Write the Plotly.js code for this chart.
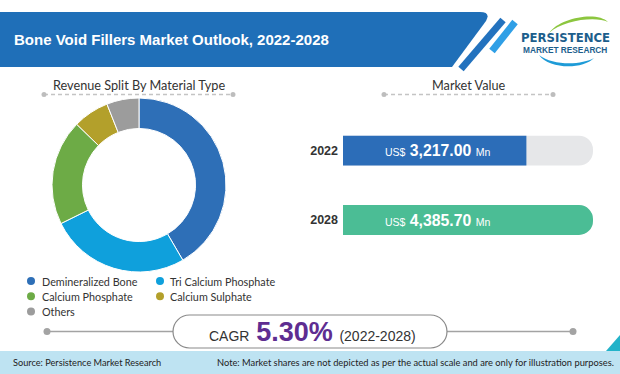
<!DOCTYPE html>
<html><head><meta charset="utf-8">
<script src="https://cdn.plot.ly/plotly-3.0.1.min.js"></script>
<style>html,body{margin:0;padding:0;background:#fff}#chart{width:620px;height:374px}</style>
</head><body><div id="chart"></div>
<script>
// ---- data ----
const titleText = 'Bone Void Fillers Market Outlook, 2022-2028';
const pieTitle = 'Revenue Split By Material Type';
const barTitle = 'Market Value';
const materialTypes = ['Demineralized Bone', 'Tri Calcium Phosphate', 'Calcium Phosphate', 'Calcium Sulphate', 'Others'];
const materialShares = [41.6, 26.1, 19.6, 6.7, 6.0];
const materialColors = ['#2E6FB7', '#0FA0DC', '#6DAB46', '#B3A02B', '#9C9C9C'];
const years = ['2022', '2028'];
const marketValues = [3217.00, 4385.70];
const barColors = ['#2C6DB8', '#4BBD95'];
const cagrLabel = 'CAGR';
const cagrValue = '5.30%';
const cagrPeriod = '(2022-2028)';
const sourceText = 'Source: Persistence Market Research';
const noteText = 'Note: Market shares are not depicted as per the actual scale and are only for illustration purposes.';

// ---- helpers (pixel -> paper) ----
const W = 620, H = 374;
const px = x => x / W;
const py = y => 1 - y / H;
const P = (x, y) => px(x) + ',' + py(y);
const BODY = 'Lato, "Open Sans", sans-serif';
const ARIAL = '"Liberation Sans", Arial, sans-serif';
const NARROW = '"DejaVu Sans Condensed", sans-serif';

const maxVal = Math.max(...marketValues);
const fmt = v => v.toLocaleString('en-US', {minimumFractionDigits: 2, maximumFractionDigits: 2});

const traces = [
  {
    type: 'pie', labels: materialTypes, values: materialShares,
    marker: {colors: materialColors, line: {color: '#ffffff', width: 1}},
    hole: 0.65, sort: false, direction: 'clockwise', rotation: 0,
    textinfo: 'none', showlegend: false,
    domain: {x: [px(52), px(226)], y: [py(272), py(98)]}
  },
  {
    type: 'bar', orientation: 'h', y: years, x: years.map(() => maxVal),
    marker: {color: '#E6E7E9', cornerradius: 15}, width: 0.43,
    hoverinfo: 'skip', showlegend: false
  },
  {
    type: 'bar', orientation: 'h', y: years, x: marketValues,
    marker: {color: barColors, cornerradius: 15}, width: 0.43,
    showlegend: false
  }
];

const shapes = [];
const annotations = [];

// banner
shapes.push({type: 'path', xref: 'paper', yref: 'paper', layer: 'below',
  path: `M ${P(0,12)} L ${P(480,12)} Q ${P(491,12)} ${P(486,21)} L ${P(452,67)} L ${P(0,67)} Z`,
  fillcolor: '#1F6FB8', line: {width: 0}});
// stripes
shapes.push({type: 'line', xref: 'paper', yref: 'paper', x0: px(503), y0: py(20), x1: px(461), y1: py(69),
  line: {color: '#2372BE', width: 7}});
shapes.push({type: 'line', xref: 'paper', yref: 'paper', x0: px(515), y0: py(22), x1: px(492), y1: py(51),
  line: {color: '#2F9FE6', width: 7}});
// logo swooshes
shapes.push({type: 'path', xref: 'paper', yref: 'paper',
  path: `M ${P(549,33)} C ${P(560,17)} ${P(598,11)} ${P(608,22)} C ${P(596,16)} ${P(563,20)} ${P(549,33)} Z`,
  fillcolor: '#8CC63F', line: {width: 0}});
shapes.push({type: 'path', xref: 'paper', yref: 'paper',
  path: `M ${P(539,55)} C ${P(549,69)} ${P(582,70)} ${P(594,58)} C ${P(582,65)} ${P(553,66)} ${P(539,55)} Z`,
  fillcolor: '#1E9BD7', line: {width: 0}});

annotations.push({xref: 'paper', yref: 'paper', x: px(12), y: py(40), xanchor: 'left', yanchor: 'middle',
  text: '<b>' + titleText + '</b>', showarrow: false, font: {family: ARIAL, size: 15, color: '#ffffff'}});
annotations.push({xref: 'paper', yref: 'paper', x: px(565), y: py(38), xanchor: 'center', yanchor: 'middle',
  text: '<b>PERSISTENCE</b>', showarrow: false, font: {family: NARROW, size: 13, color: '#1C5E8C'}});
annotations.push({xref: 'paper', yref: 'paper', x: px(565), y: py(50.5), xanchor: 'center', yanchor: 'middle',
  text: '<b>MARKET RESEARCH</b>', showarrow: false, font: {family: ARIAL, size: 8.3, color: '#1C5E8C'}});

// section headers with dotted rules
function header(text, cx, x0, x1) {
  annotations.push({xref: 'paper', yref: 'paper', x: px(cx), y: py(84.5), xanchor: 'center', yanchor: 'middle',
    text: text, showarrow: false, font: {family: BODY, size: 12.7, color: '#333333'}});
  shapes.push({type: 'line', xref: 'paper', yref: 'paper', x0: px(x0), x1: px(x1), y0: py(94.5), y1: py(94.5),
    line: {color: '#C4C4C4', width: 1.5, dash: '4px,3px'}});
  [x0, x1].forEach(x => shapes.push({type: 'circle', xref: 'paper', yref: 'paper',
    x0: px(x - 2.5), x1: px(x + 2.5), y0: py(97), y1: py(92), fillcolor: '#BDBDBD', line: {width: 0}}));
}
header(pieTitle, 138.5, 44, 233);
header(barTitle, 468.5, 384, 553);

// legend built from categories
materialTypes.forEach((name, i) => {
  const col = i % 2, row = Math.floor(i / 2);
  const mx = [31, 160][col], tx = [40, 168][col], cy = 281 + 15.2 * row;
  shapes.push({type: 'circle', xref: 'paper', yref: 'paper', x0: px(mx - 4), x1: px(mx + 4),
    y0: py(cy + 4), y1: py(cy - 4), fillcolor: materialColors[i], line: {width: 0}});
  annotations.push({xref: 'paper', yref: 'paper', x: px(tx), y: py(cy), xanchor: 'left', yanchor: 'middle',
    text: name, showarrow: false, font: {family: BODY, size: 10.8, color: '#333333'}});
});

// bar value labels (placed 40px into the bar track; y = category index)
years.forEach((yr, i) => {
  annotations.push({xref: 'paper', yref: 'y', x: px(383), y: i, xanchor: 'left', yanchor: 'middle',
    text: '<span style="font-size:10.5px">US$</span> <b>' + fmt(marketValues[i]) + '</b> <span style="font-size:10.5px">Mn</span>',
    showarrow: false, font: {family: ARIAL, size: 15.8, color: '#ffffff'}});
});

// CAGR pill
const k = 0.5523, r = 16.5, cyP = 331.5, lx = 189.5, rx = 430.5;
shapes.push({type: 'line', xref: 'paper', yref: 'paper', x0: px(47), x1: px(173), y0: py(cyP), y1: py(cyP),
  line: {color: '#A3A3A3', width: 1.3}});
shapes.push({type: 'line', xref: 'paper', yref: 'paper', x0: px(447), x1: px(573), y0: py(cyP), y1: py(cyP),
  line: {color: '#A3A3A3', width: 1.3}});
[47, 573].forEach(x => shapes.push({type: 'circle', xref: 'paper', yref: 'paper',
  x0: px(x - 3.5), x1: px(x + 3.5), y0: py(cyP + 3.5), y1: py(cyP - 3.5), fillcolor: '#A3A3A3', line: {width: 0}}));
shapes.push({type: 'path', xref: 'paper', yref: 'paper',
  path: `M ${P(lx, cyP - r)} L ${P(rx, cyP - r)} C ${P(rx + k * r, cyP - r)} ${P(rx + r, cyP - k * r)} ${P(rx + r, cyP)} ` +
        `C ${P(rx + r, cyP + k * r)} ${P(rx + k * r, cyP + r)} ${P(rx, cyP + r)} L ${P(lx, cyP + r)} ` +
        `C ${P(lx - k * r, cyP + r)} ${P(lx - r, cyP + k * r)} ${P(lx - r, cyP)} C ${P(lx - r, cyP - k * r)} ${P(lx - k * r, cyP - r)} ${P(lx, cyP - r)} Z`,
  fillcolor: '#ffffff', line: {color: '#8A8A8A', width: 1.2}});
annotations.push({xref: 'paper', yref: 'paper', x: px(207), y: py(332), xanchor: 'left', yanchor: 'middle',
  text: cagrLabel + '\u2009 <span style="font-size:27px;color:#5E2D91"><b>' + cagrValue + '</b></span> \u2009' + cagrPeriod,
  showarrow: false, font: {family: ARIAL, size: 14, color: '#333333'}});

// footer
shapes.push({type: 'rect', xref: 'paper', yref: 'paper', x0: 0, x1: 1, y0: py(374), y1: py(351),
  fillcolor: '#BEE3F2', line: {width: 0}});
shapes.push({type: 'path', xref: 'paper', yref: 'paper',
  path: `M ${P(606,351)} L ${P(620,335)} L ${P(620,351)} Z`, fillcolor: '#23B3C9', line: {width: 0}});
annotations.push({xref: 'paper', yref: 'paper', x: px(11), y: py(362.5), xanchor: 'left', yanchor: 'middle',
  text: sourceText, showarrow: false, font: {family: BODY, size: 9.2, color: '#222222'}});
annotations.push({xref: 'paper', yref: 'paper', x: px(616), y: py(362.5), xanchor: 'right', yanchor: 'middle',
  text: noteText, showarrow: false, font: {family: BODY, size: 9.3, color: '#222222'}});

const layout = {
  width: W, height: H, margin: {l: 0, r: 0, t: 0, b: 0},
  paper_bgcolor: '#ffffff', plot_bgcolor: 'rgba(0,0,0,0)',
  barmode: 'overlay', showlegend: false,
  xaxis: {domain: [px(343), px(593)], range: [0, maxVal], visible: false, fixedrange: true},
  yaxis: {domain: [py(254.7), py(116)], type: 'category', range: [1.5, -0.5], showgrid: false,
    zeroline: false, showline: false, ticks: '', fixedrange: true, ticklabelstandoff: 4,
    tickfont: {family: ARIAL, size: 12.5, color: '#333333', weight: 'bold'}},
  shapes: shapes, annotations: annotations
};
Plotly.newPlot('chart', traces, layout, {displayModeBar: false, staticPlot: true});
</script>
</body></html>
